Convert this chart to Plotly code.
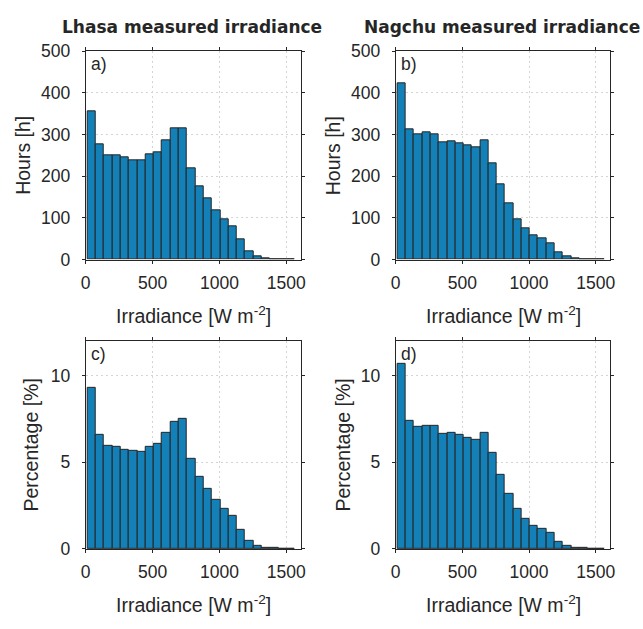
import plotly.graph_objects as go

# ---- data ----
bin_centers = [45, 107, 169, 231, 293, 355, 417, 479, 541, 603, 665, 727, 789,
               851, 913, 975, 1037, 1099, 1161, 1223, 1285, 1347, 1409, 1471, 1533]
bin_width = 62

lhasa_hours = [357, 277, 251, 250, 245, 239, 237, 252, 258, 287, 315, 314, 218,
               175, 148, 119, 97, 79, 48, 20, 8, 3, 1.5, 1, 0.5]
nagchu_hours = [424, 312, 301, 306, 301, 282, 285, 280, 274, 269, 287, 232, 181,
                134, 97, 74, 57, 50, 39, 18, 8.5, 4, 1.5, 0.8, 0.5]
lhasa_pct = [9.31, 6.58, 5.93, 5.91, 5.72, 5.65, 5.59, 5.91, 6.06, 6.71, 7.34, 7.49, 5.17,
             4.16, 3.49, 2.86, 2.30, 1.90, 1.13, 0.46, 0.19, 0.07, 0.04, 0.02, 0.01]
nagchu_pct = [10.69, 7.40, 7.06, 7.12, 7.12, 6.64, 6.67, 6.56, 6.39, 6.30, 6.69, 5.52, 4.28,
              3.16, 2.30, 1.73, 1.36, 1.15, 0.91, 0.43, 0.19, 0.09, 0.04, 0.02, 0.01]

titles = ["Lhasa measured irradiance", "Nagchu measured irradiance"]
panel_letters = ["a)", "b)", "c)", "d)"]
x_title = "Irradiance [W m<sup>-2</sup>]"
y_titles = ["Hours [h]", "Hours [h]", "Percentage [%]", "Percentage [%]"]
x_ticks = [0, 500, 1000, 1500]
y_ticks_hours = [0, 100, 200, 300, 400, 500]
y_ticks_pct = [0, 5, 10]

# ---- layout constants ----
W, H = 643, 629
TXT = "#262626"
BAR = "#1380B8"
FONT = "Liberation Sans, Arial, sans-serif"


def fx(px):
    return px / W


def fy(py):
    return 1 - py / H


cols = [(82, 300.7), (396.8, 615)]
rows = [(42.7, 257.7), (341.7, 556.7)]

fig = go.Figure()

series = [lhasa_hours, nagchu_hours, lhasa_pct, nagchu_pct]
layout_axes = {}
annotations = []

for i in range(4):
    r, c = divmod(i, 2)
    n = i + 1
    xa = "x" if n == 1 else f"x{n}"
    ya = "y" if n == 1 else f"y{n}"
    fig.add_trace(go.Bar(
        x=bin_centers, y=series[i], width=[bin_width] * len(bin_centers),
        marker=dict(color=BAR, line=dict(color=TXT, width=1)),
        xaxis=xa, yaxis=ya, showlegend=False,
    ))
    x0, x1 = cols[c]
    y0, y1 = rows[r]
    common = dict(
        showline=True, linecolor=TXT, linewidth=1, mirror="ticks",
        ticks="outside", ticklen=3, tickcolor=TXT, tickwidth=1,
        showgrid=True, gridcolor="#d4d4d4", gridwidth=1, griddash="2px,3px",
        zeroline=False, tickfont=dict(family=FONT, size=17.5, color=TXT),
    )
    layout_axes["xaxis" if n == 1 else f"xaxis{n}"] = dict(
        common, domain=[fx(x0), fx(x1)], range=[0, 1610],
        tickvals=x_ticks, anchor=ya, ticklabelstandoff=4,
    )
    yt = y_ticks_hours if r == 0 else y_ticks_pct
    yr = [0, 500] if r == 0 else [0, 12]
    layout_axes["yaxis" if n == 1 else f"yaxis{n}"] = dict(
        common, domain=[fy(y1), fy(y0)], range=yr,
        tickvals=yt, anchor=xa, ticklabelstandoff=8,
    )
    # panel letter
    annotations.append(dict(
        text=panel_letters[i], xref="paper", yref="paper",
        x=fx(x0 + 3), y=fy(y0 + 1), xanchor="left", yanchor="top",
        showarrow=False, font=dict(family=FONT, size=17.5, color=TXT),
    ))
    # x title
    annotations.append(dict(
        text=x_title, xref="paper", yref="paper",
        x=fx((x0 + x1) / 2), y=fy(y1 + 57), xanchor="center", yanchor="middle",
        showarrow=False, font=dict(family=FONT, size=19.5, color=TXT),
    ))
    # y title
    ytx = [18.7, 334, 26, 343][i]
    annotations.append(dict(
        text=y_titles[i], xref="paper", yref="paper", textangle=-90,
        x=fx(ytx), y=fy((y0 + y1) / 2), xanchor="center", yanchor="middle",
        showarrow=False, font=dict(family=FONT, size=19.5, color=TXT),
    ))

for c in range(2):
    x0, x1 = cols[c]
    annotations.append(dict(
        text=f"<b>{titles[c]}</b>", xref="paper", yref="paper",
        x=fx((x0 + x1) / 2 - 1.5), y=fy(18), xanchor="center", yanchor="middle",
        showarrow=False, font=dict(family="DejaVu Sans", size=17, color=TXT),
    ))

fig.update_layout(
    width=W, height=H, margin=dict(l=0, r=0, t=0, b=0),
    paper_bgcolor="white", plot_bgcolor="white",
    bargap=0, annotations=annotations, **layout_axes,
)

fig.write_html("out.html")
